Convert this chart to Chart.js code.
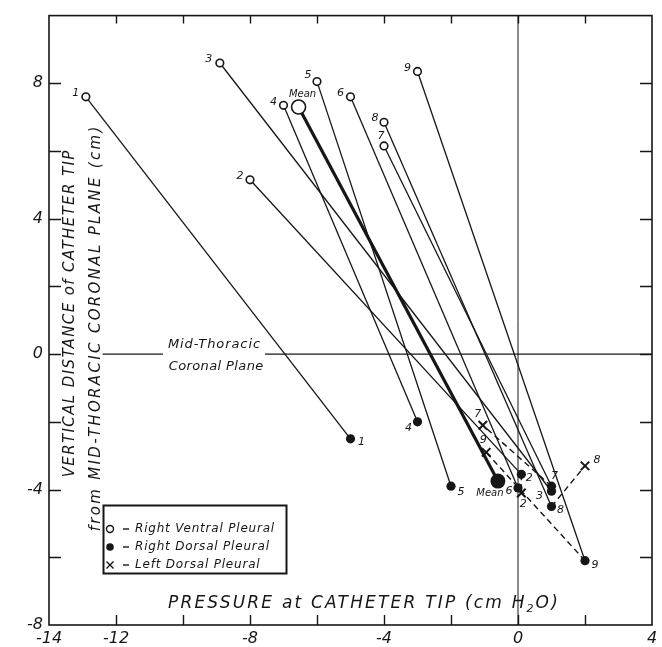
<!DOCTYPE html>
<html lang="en">
<head>
<meta charset="UTF-8">
<title>Pleural Pressure vs Catheter Height</title>
<script src="https://cdn.jsdelivr.net/npm/chart.js"></script>
<style>
  html, body { margin: 0; padding: 0; background: #fff; }
</style>
</head>
<body>
<canvas id="pleuralChart" width="662" height="647"></canvas>
<script>
// subject numbers
const subjects = ['1', '2', '3', '4', '5', '6', '7', '8', '9'];
// right ventral pleural catheter (open circles)
const ventralPressure = [-12.9, -8.0, -8.9, -7.0, -6.0, -5.0, -4.0, -4.0, -3.0];
const ventralHeight = [7.6, 5.15, 8.6, 7.35, 8.05, 7.6, 6.15, 6.85, 8.35];
// right dorsal pleural catheter (filled circles)
const dorsalPressure = [-5.0, 0.1, 1.0, -3.0, -2.0, 0.0, 1.0, 1.0, 2.0];
const dorsalHeight = [-2.5, -3.55, -4.05, -2.0, -3.9, -3.95, -3.9, -4.5, -6.1];
// left dorsal pleural catheter (crosses)
const leftSubjects = ['7', '9', '2', '8'];
const leftPressure = [-1.05, -0.95, 0.1, 2.0];
const leftHeight = [-2.1, -2.9, -4.1, -3.3];
// means: [ventral, dorsal]
const meanPressure = [-6.55, -0.6];
const meanHeight = [7.3, -3.75];
// mid-thoracic coronal plane line (broken for its caption)
const planeSegments = [[-12.4, -10.6], [-7.55, 4]];
const xTickLabels = [-14, -12, -8, -4, 0, 4];
const yTickLabels = [-8, -4, 0, 4, 8];

// label placement (px from the point)
const ventralLabelOffsets = [[-10, -4], [-10, -4], [-11, -4], [-10, -3], [-9, -6], [-10, -4], [-3, -10], [-9, -4], [-10, -3]];
const dorsalLabelOffsets = [[11, 3], [8, 4], [-12, 5], [-9, 6], [10, 6], [-9, 3], [3, -10], [9, 4], [10, 4]];
const leftLabelOffsets = [[-5, -11], [-3, -12], [2, 11], [12, -6]];
const meanLabelOffsets = [[4, -13], [-8, 12]];

const INK = '#161616';
const FONT = '"DejaVu Sans", "Liberation Sans", sans-serif';

const pts = (xs, ys) => xs.map((x, i) => ({ x: x, y: ys[i] }));

function lineSet(data, width, dash) {
  return {
    data: data, showLine: true, borderColor: INK, borderWidth: width,
    borderDash: dash || [], pointRadius: 0, fill: false, order: 2
  };
}

const datasets = [];
// markers on top
datasets.push({ data: pts(ventralPressure, ventralHeight), pointRadius: 3.8, pointBorderWidth: 1.6,
  pointBackgroundColor: '#fff', pointBorderColor: INK, order: 0 });
datasets.push({ data: pts(dorsalPressure, dorsalHeight), pointRadius: 4.6, pointBorderWidth: 0,
  pointBackgroundColor: INK, pointBorderColor: INK, order: 0 });
datasets.push({ data: pts(leftPressure, leftHeight), pointStyle: 'crossRot', pointRadius: 6, pointBorderWidth: 2,
  pointBorderColor: INK, order: 0 });
datasets.push({ data: [{ x: meanPressure[0], y: meanHeight[0] }], pointRadius: 7, pointBorderWidth: 1.6,
  pointBackgroundColor: '#fff', pointBorderColor: INK, order: 0 });
datasets.push({ data: [{ x: meanPressure[1], y: meanHeight[1] }], pointRadius: 7.5, pointBorderWidth: 0,
  pointBackgroundColor: INK, order: 0 });

// subject lines ventral -> dorsal
subjects.forEach((s, i) => {
  datasets.push(lineSet([{ x: ventralPressure[i], y: ventralHeight[i] }, { x: dorsalPressure[i], y: dorsalHeight[i] }], 1.3));
});
// mean line
datasets.push(lineSet(pts(meanPressure, meanHeight), 3.2));
// right dorsal -> left dorsal (dashed)
leftSubjects.forEach((s, i) => {
  const j = subjects.indexOf(s);
  datasets.push(lineSet([{ x: dorsalPressure[j], y: dorsalHeight[j] }, { x: leftPressure[i], y: leftHeight[i] }], 1.4, [6, 4]));
});
// reference lines
planeSegments.forEach(seg => {
  datasets.push(lineSet([{ x: seg[0], y: 0 }, { x: seg[1], y: 0 }], 1.3));
});
datasets.push(lineSet([{ x: 0, y: -8 }, { x: 0, y: 10 }], 1));

// draws text stretched to a given width by letter spacing
function spacedText(ctx, text, cx, cy, width) {
  ctx.letterSpacing = '0px';
  const base = ctx.measureText(text).width;
  const sp = width ? (width - base) / text.length : 0;
  ctx.letterSpacing = sp + 'px';
  ctx.textAlign = 'left';
  ctx.fillText(text, cx - (base + sp * text.length) / 2 + sp / 2, cy);
  ctx.letterSpacing = '0px';
  return sp;
}

const framePlugin = {
  id: 'frame',
  afterDraw(chart) {
    const { ctx, chartArea: a, scales } = chart;
    ctx.save();
    ctx.strokeStyle = INK;
    ctx.lineWidth = 1.6;
    ctx.strokeRect(a.left, a.top, a.right - a.left, a.bottom - a.top);
    ctx.lineWidth = 1.4;
    ctx.beginPath();
    scales.x.ticks.forEach(t => {
      if (t.value <= scales.x.min || t.value >= scales.x.max) return;
      const px = Math.round(scales.x.getPixelForValue(t.value)) + 0.5;
      ctx.moveTo(px, a.bottom); ctx.lineTo(px, a.bottom - 10);
      ctx.moveTo(px, a.top); ctx.lineTo(px, a.top + 8);
    });
    scales.y.ticks.forEach(t => {
      if (t.value <= scales.y.min || t.value >= scales.y.max) return;
      const py = Math.round(scales.y.getPixelForValue(t.value)) + 0.5;
      ctx.moveTo(a.left, py); ctx.lineTo(a.left + 12, py);
      ctx.moveTo(a.right, py); ctx.lineTo(a.right - 12, py);
    });
    ctx.stroke();
    ctx.restore();
  }
};

const textPlugin = {
  id: 'texts',
  afterDraw(chart) {
    const { ctx, scales } = chart;
    const X = v => scales.x.getPixelForValue(v);
    const Y = v => scales.y.getPixelForValue(v);
    ctx.save();
    ctx.fillStyle = INK;
    ctx.textBaseline = 'middle';
    ctx.textAlign = 'center';

    // point numbers
    ctx.font = 'italic 11px ' + FONT;
    subjects.forEach((s, i) => {
      const vo = ventralLabelOffsets[i], dof = dorsalLabelOffsets[i];
      ctx.fillText(s, X(ventralPressure[i]) + vo[0], Y(ventralHeight[i]) + vo[1]);
      ctx.fillText(s, X(dorsalPressure[i]) + dof[0], Y(dorsalHeight[i]) + dof[1]);
    });
    leftSubjects.forEach((s, i) => {
      const o = leftLabelOffsets[i];
      ctx.fillText(s, X(leftPressure[i]) + o[0], Y(leftHeight[i]) + o[1]);
    });
    ctx.font = 'italic 10px ' + FONT;
    meanPressure.forEach((p, i) => {
      const o = meanLabelOffsets[i];
      ctx.fillText('Mean', X(p) + o[0], Y(meanHeight[i]) + o[1]);
    });

    // plane caption
    const capX = X((planeSegments[0][1] + planeSegments[1][0]) / 2);
    ctx.font = 'italic 13px ' + FONT;
    spacedText(ctx, 'Mid-Thoracic', capX, Y(0) - 10, 93);
    spacedText(ctx, 'Coronal Plane', capX + 2, Y(0) + 12, 95);

    // x axis title (inside the frame)
    ctx.font = 'italic 17px ' + FONT;
    const t1 = 'PRESSURE at CATHETER TIP (cm H';
    const t2 = 'O)';
    ctx.letterSpacing = '0px';
    const w1 = ctx.measureText(t1).width, w2 = ctx.measureText(t2).width;
    ctx.font = 'italic 11px ' + FONT;
    const wSub = ctx.measureText('2').width;
    const total = 392, n = t1.length + t2.length;
    const sp = (total - w1 - w2 - wSub - 2) / n;
    let xx = 168, yy = 604;
    ctx.textAlign = 'left';
    ctx.font = 'italic 17px ' + FONT;
    ctx.letterSpacing = sp + 'px';
    ctx.fillText(t1, xx, yy);
    xx += w1 + sp * t1.length;
    ctx.font = 'italic 11px ' + FONT;
    ctx.letterSpacing = '0px';
    ctx.fillText('2', xx, yy + 5);
    xx += wSub + 2;
    ctx.font = 'italic 17px ' + FONT;
    ctx.letterSpacing = sp + 'px';
    ctx.fillText(t2, xx, yy);
    ctx.letterSpacing = '0px';

    // y axis title (inside the frame, two lines)
    ctx.save();
    ctx.font = 'italic 15px ' + FONT;
    ctx.translate(70, 314);
    ctx.rotate(-Math.PI / 2);
    spacedText(ctx, 'VERTICAL DISTANCE of CATHETER TIP', 0, 0, 328);
    ctx.restore();
    ctx.save();
    ctx.font = 'italic 15px ' + FONT;
    ctx.translate(96, 329);
    ctx.rotate(-Math.PI / 2);
    spacedText(ctx, 'from MID-THORACIC CORONAL PLANE (cm)', 0, 0, 407);
    ctx.restore();

    // legend box
    ctx.strokeStyle = INK;
    ctx.lineWidth = 2;
    ctx.strokeRect(103.5, 505.5, 183, 68);
    const rows = ['Right Ventral Pleural', 'Right Dorsal Pleural', 'Left Dorsal Pleural'];
    const rowY = [529, 547, 565];
    ctx.font = 'italic 12px ' + FONT;
    ctx.letterSpacing = '0px';
    const spL = (140 - ctx.measureText(rows[0]).width) / rows[0].length;
    rows.forEach((r, i) => {
      const cy = rowY[i];
      ctx.lineWidth = 1.4;
      ctx.beginPath();
      if (i === 0) {
        ctx.arc(110, cy, 3.5, 0, Math.PI * 2); ctx.stroke();
      } else if (i === 1) {
        ctx.arc(110, cy, 3.8, 0, Math.PI * 2); ctx.fill();
      } else {
        ctx.moveTo(106.5, cy - 3.5); ctx.lineTo(113.5, cy + 3.5);
        ctx.moveTo(113.5, cy - 3.5); ctx.lineTo(106.5, cy + 3.5); ctx.stroke();
      }
      ctx.beginPath();
      ctx.moveTo(123, cy); ctx.lineTo(129, cy); ctx.stroke();
      ctx.textAlign = 'left';
      ctx.letterSpacing = spL + 'px';
      ctx.fillText(r, 135, cy);
      ctx.letterSpacing = '0px';
    });
    ctx.restore();
  }
};

const tickFont = { family: FONT, size: 16, style: 'italic' };
const fmt = v => (v < 0 ? '-' + Math.abs(v) : String(v));

new Chart(document.getElementById('pleuralChart').getContext('2d'), {
  type: 'scatter',
  data: { datasets: datasets },
  options: {
    responsive: false,
    animation: false,
    events: [],
    layout: { padding: { top: 10, right: 10, left: 0, bottom: 0 } },
    plugins: { legend: { display: false }, tooltip: { enabled: false } },
    scales: {
      x: {
        type: 'linear', min: -14, max: 4,
        grid: { display: false, drawTicks: false },
        border: { display: false },
        ticks: { stepSize: 2, color: INK, font: tickFont, padding: 4, maxRotation: 0, autoSkip: false,
          callback: v => (xTickLabels.includes(v) ? fmt(v) : '') },
        afterFit: s => { s.height = 22; }
      },
      y: {
        type: 'linear', min: -8, max: 10,
        grid: { display: false, drawTicks: false },
        border: { display: false },
        ticks: { stepSize: 2, color: INK, font: tickFont, padding: 6, autoSkip: false,
          callback: v => (yTickLabels.includes(v) ? fmt(v) : '') },
        afterFit: s => { s.width = 49; }
      }
    }
  },
  plugins: [framePlugin, textPlugin]
});
</script>
</body>
</html>
